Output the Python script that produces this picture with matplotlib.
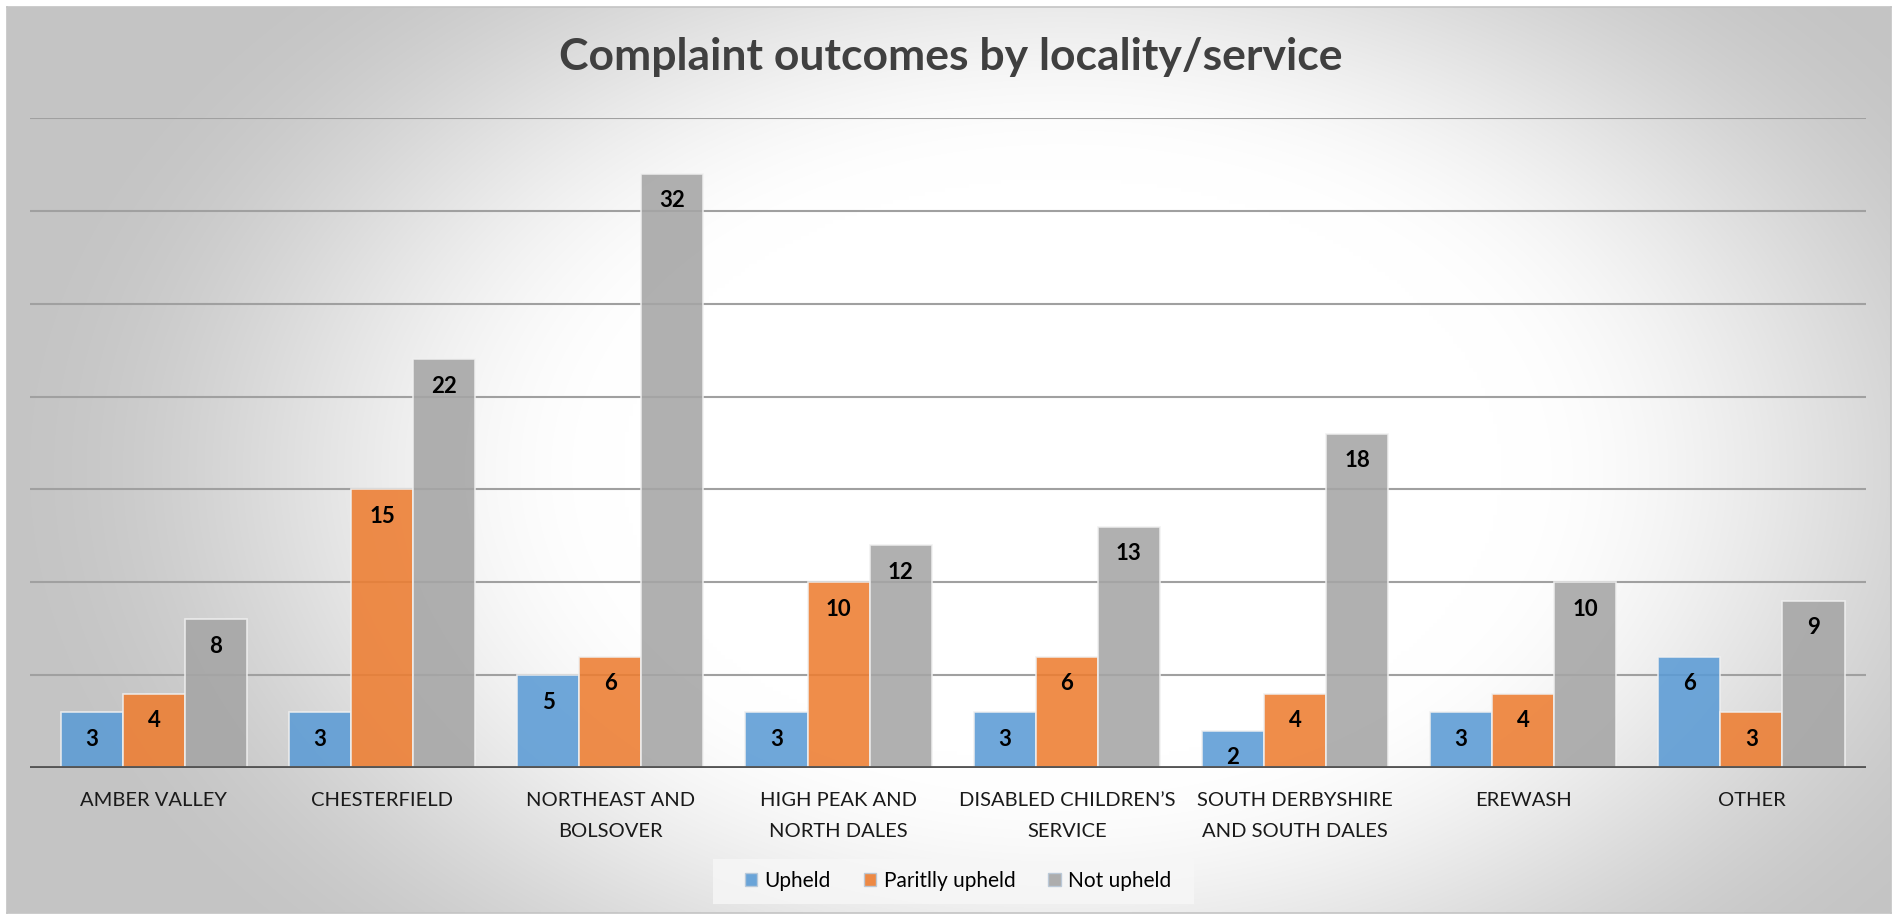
import numpy as np
import matplotlib
matplotlib.use("Agg")
import matplotlib.pyplot as plt
import matplotlib.patches as patches

plt.rcParams['font.family'] = ['Lato', 'DejaVu Sans']

categories = ["AMBER VALLEY", "CHESTERFIELD", "NORTHEAST AND\nBOLSOVER",
              "HIGH PEAK AND\nNORTH DALES", "DISABLED CHILDREN\u2019S\nSERVICE",
              "SOUTH DERBYSHIRE\nAND SOUTH DALES", "EREWASH", "OTHER"]
upheld = [3, 3, 5, 3, 3, 2, 3, 6]
partly_upheld = [4, 15, 6, 10, 6, 4, 4, 3]
not_upheld = [8, 22, 32, 12, 13, 18, 10, 9]
series_names = ["Upheld", "Paritlly upheld", "Not upheld"]
colors = ["#5b9bd5", "#ed7d31", "#a5a5a5"]

W, H = 1894, 917
fig = plt.figure(figsize=(W / 100, H / 100), dpi=100)

# radial gradient background, white in the middle, grey at the edges
bg = fig.add_axes([7 / W, 4 / H, 1884 / W, 906 / H])
py, px = np.mgrid[7:913:4, 7:1891:4]
r = np.sqrt(((px - 1060) / 1050.0) ** 2 + ((py - 470) / 700.0) ** 2)
t = np.clip((r - 0.42) / 0.6, 0, 1)
val = 1.0 - 0.23 * t * t * (3 - 2 * t)
bg.imshow(np.dstack([val, val, val]), aspect='auto', interpolation='bilinear')
bg.set_xticks([])
bg.set_yticks([])
for s in bg.spines.values():
    s.set_color("#c4c4c4")
    s.set_linewidth(1.2)

ax = fig.add_axes([30 / W, 1 - 768 / H, 1836 / W, 650 / H])
ax.patch.set_alpha(0)
x = np.arange(len(categories))
width = 0.272
for i, (vals, name, c) in enumerate(zip([upheld, partly_upheld, not_upheld], series_names, colors)):
    bars = ax.bar(x + (i - 1) * width, vals, width, color=c, alpha=0.88,
                  edgecolor="#f0f0f0", linewidth=1.2, label=name, zorder=2)
    for b, v in zip(bars, vals):
        ax.annotate(str(v), (b.get_x() + b.get_width() / 2, v),
                    xytext=(0, -27), textcoords='offset pixels',
                    ha='center', va='center', fontsize=16, fontweight='bold',
                    color='black', zorder=4)

ax.set_xlim(-0.543, 7.502)
ax.set_ylim(0, 35)
for g in range(5, 36, 5):
    ax.axhline(g, color="#a0a0a0", lw=1.5, zorder=1)
ax.axhline(0, color="#555555", lw=3.5, zorder=3)
for s in ax.spines.values():
    s.set_visible(False)
ax.set_yticks([])
ax.set_xticks(x)
ax.set_xticklabels(categories, fontsize=14.5, color="#1a1a1a", linespacing=2.0, va='top')
ax.tick_params(axis='x', length=0, pad=17)

fig.text(951 / W, 1 - 57 / H, "Complaint outcomes by locality/service",
         ha='center', va='center', fontsize=32, fontweight='bold', color="#404040")

# legend box
fig.patches.append(patches.Rectangle((713 / W, 1 - 904 / H), 481 / W, 45 / H,
                                     transform=fig.transFigure, facecolor="#f7f7f7",
                                     edgecolor="none", alpha=0.8, zorder=0))
handles = [patches.Patch(facecolor=c, edgecolor="#b8c8d8", alpha=0.9) for c in colors]
leg = fig.legend(handles, series_names, loc='center', bbox_to_anchor=(958 / W, 1 - 881 / H),
                 ncol=3, fontsize=15, frameon=False,
                 handlelength=0.6, handleheight=0.6, handletextpad=0.35,
                 columnspacing=1.58, borderpad=0.3, borderaxespad=0)

fig.savefig("out.png", dpi=100)
